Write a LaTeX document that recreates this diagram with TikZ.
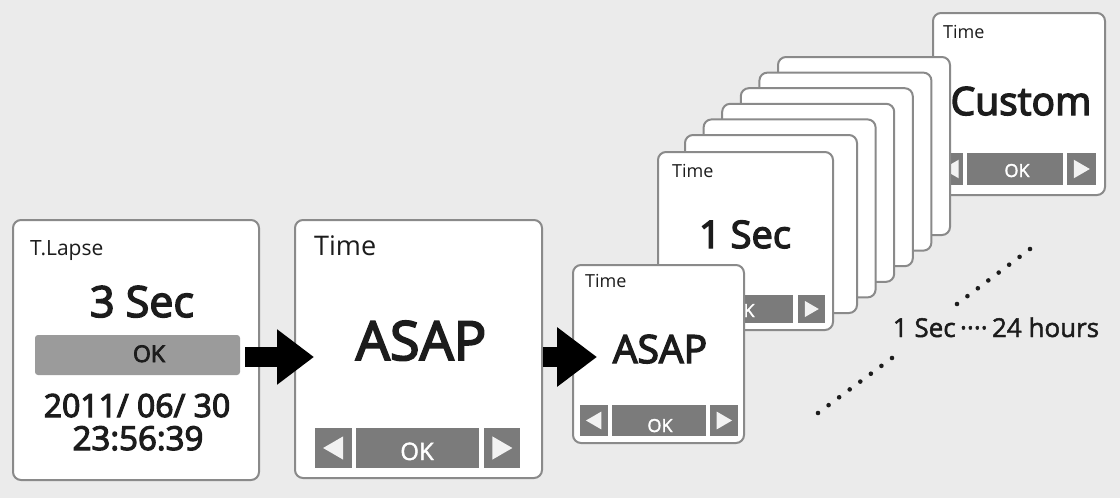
\documentclass[tikz,border=0pt]{standalone}
\usepackage{fontspec}
\setmainfont{Open Sans}
\newfontfamily\semifont{Open Sans}[FakeBold=3.5]
\newfontfamily\medfont{Open Sans}[FakeBold=1.8]
\usetikzlibrary{arrows.meta,calc}
\definecolor{bg}{HTML}{EBEBEB}
\definecolor{frame}{HTML}{8A8A8A}
\definecolor{btngray}{HTML}{7B7B7B}
\definecolor{okbar}{HTML}{9B9B9B}
\definecolor{ink}{HTML}{1C1C1C}
\definecolor{trifill}{HTML}{F2F2F2}
\newcommand{\fs}[1]{\fontsize{#1}{#1}\selectfont}
\tikzset{
  card/.style={draw=frame, line width=2pt, fill=white, rounded corners=8pt, inner sep=0pt},
  btn/.style={fill=btngray},
  tri/.style={fill=trifill},
  lbl/.style={inner sep=0pt, text=ink},
  big/.style={inner sep=0pt, text=ink, font=\semifont},
  btntext/.style={inner sep=0pt, text=white, font=\medfont},
  bigarrow/.style={line width=20pt, draw=black},
  dotmark/.style={fill=ink},
}
% #1 unused tag, #2 xL1, #3 xL2, #4 xO1, #5 xO2, #6 xR1, #7 xR2, #8 yT, #9 yB
\newcommand{\btnrow}[9]{%
  \fill[btn] (#2,#8) rectangle (#3,#9);
  \fill[btn] (#4,#8) rectangle (#5,#9);
  \fill[btn] (#6,#8) rectangle (#7,#9);
  \pgfmathsetmacro\by{(#8+#9)/2}%
  \pgfmathsetmacro\bh{#9-#8}%
  \pgfmathsetmacro\lx{(#2+#3)/2}%
  \pgfmathsetmacro\rx{(#6+#7)/2}%
  \fill[tri] (\lx-0.26*\bh,\by) -- (\lx+0.24*\bh,\by-0.29*\bh) -- (\lx+0.24*\bh,\by+0.29*\bh) -- cycle;
  \fill[tri] (\rx+0.26*\bh,\by) -- (\rx-0.24*\bh,\by-0.29*\bh) -- (\rx-0.24*\bh,\by+0.29*\bh) -- cycle;
}
\begin{document}
\begin{tikzpicture}[x=1pt,y=-1pt]
\fill[bg] (0,0) rectangle (1120,498);
\useasboundingbox (0,0) rectangle (1120,498);

% Custom card (back)
\node[card, minimum width=172pt, minimum height=182pt] (cust) at (1019,104) {};
\node[lbl, anchor=base west] (custtime) at (943,38) {\fs{18}Time};
\node[big, anchor=base] (custval) at (1021,115) {\fs{39}Custom};
\btnrow{c}{939}{963}{967}{1063}{1067}{1096}{153}{185}
\node[btntext, anchor=base] (custok) at (1017,177) {\fs{18}OK};

% stacked cards
\foreach \k in {5,4,...,0}{
  \node[card, minimum width=172pt, minimum height=178pt] (stack\k) at ({685+18.6*\k+86},{135-15.6*\k+89}) {};
}

% 1 Sec card
\node[card, minimum width=175pt, minimum height=178pt] (sec) at (745.5,241) {};
\node[lbl, anchor=base west] (sectime) at (672,177) {\fs{18}Time};
\node[big, anchor=base] (secval) at (745,248) {\fs{38}1 Sec};
\btnrow{s}{665}{693}{697}{793}{798}{825}{295}{323}
\node[btntext, anchor=base] (secok) at (742,317) {\fs{18}OK};

% small ASAP card
\node[card, minimum width=171pt, minimum height=178pt] (b3) at (658.5,354) {};
\node[lbl, anchor=base west] (b3time) at (585,287) {\fs{18}Time};
\node[big, anchor=base] (b3val) at (660,363) {\fs{39}ASAP};
\btnrow{b}{580}{608}{612}{706}{710}{738}{405}{436}
\node[btntext, anchor=base] (b3ok) at (660,432) {\fs{18}OK};

% T.Lapse card
\node[card, minimum width=246pt, minimum height=260pt] (b1) at (136,350) {};
\node[lbl, anchor=base west] (b1title) at (30,255) {\fs{21}T.Lapse};
\node[big, anchor=base] (b1val) at (142,317) {\fs{43}3 Sec};
\fill[okbar, rounded corners=3pt] (35,335) rectangle (240,375);
\node[big, anchor=base] (b1ok) at (149,362) {\fs{23}OK};
\node[big, anchor=base] (b1date) at (137,417) {\fs{32}2011/ 06/ 30};
\node[big, anchor=base] (b1clock) at (138,450) {\fs{33}23:56:39};

% large ASAP card
\node[card, minimum width=247pt, minimum height=258pt] (b2) at (418.5,349) {};
\node[lbl, anchor=base west] (b2time) at (314,255) {\fs{27}Time};
\node[big, anchor=base] (b2val) at (421,360) {\fs{54}ASAP};
\btnrow{a}{315}{352}{356}{479}{484}{520}{428}{468}
\node[btntext, anchor=base] (b2ok) at (417,460) {\fs{24}OK};

% arrows
\draw[bigarrow, -{Triangle[length=37pt,width=53pt]}] ($(b1.east)+(-15,7)$) -- ($(b2.west)+(20,8)$);
\draw[bigarrow, -{Triangle[length=40pt,width=57pt]}] ($(b2.east)+(0,8)$) -- ($(b3.west)+(25,3)$);

% dotted range marks
\coordinate (ua) at (957,304);
\coordinate (ub) at (1030,249);
\coordinate (la) at (818,413);
\coordinate (lb) at (892,358);
\foreach \i in {0,...,7}{
  \fill[dotmark] ($(ua)!\i/7!(ub)$) circle (2.3pt);
  \fill[dotmark] ($(la)!\i/7!(lb)$) circle (2.3pt);
}
\node[lbl, anchor=base, font=\medfont] (range) at (996,337) {\fs{26}1 Sec\,····\,24 hours};
\end{tikzpicture}
\end{document}
